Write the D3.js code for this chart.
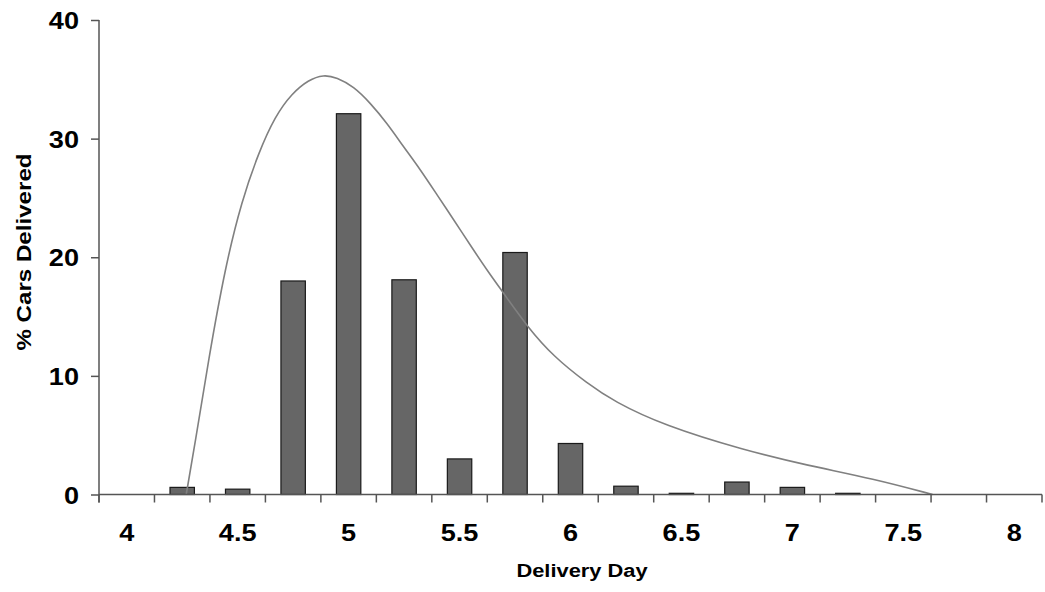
<!DOCTYPE html>
<html>
<head>
<meta charset="utf-8">
<script src="https://cdn.jsdelivr.net/npm/d3@7"></script>
<style>
  html, body { margin: 0; padding: 0; background: #fff; }
  svg text { font-family: "Liberation Sans", Arial, sans-serif; font-weight: bold; fill: #000; }
</style>
</head>
<body>
<svg id="chart" width="1045" height="592"></svg>
<script>
const width = 1045;
const height = 592;

// delivery day categories (every quarter day)
const days = [4, 4.25, 4.5, 4.75, 5, 5.25, 5.5, 5.75, 6, 6.25, 6.5, 6.75, 7, 7.25, 7.5, 7.75, 8];
// % of cars delivered per day
const pctDelivered = [0, 0.6, 0.45, 18.0, 32.1, 18.1, 3.0, 20.4, 4.3, 0.7, 0.1, 1.05, 0.6, 0.1, 0, 0, 0];
// fitted distribution curve
const curveDay = [4.268, 4.308, 4.368, 4.444, 4.519, 4.594, 4.669, 4.744, 4.819, 4.887, 4.947,
  5.022, 5.098, 5.173, 5.248, 5.323, 5.399, 5.474, 5.549, 5.624, 5.699, 5.805, 5.925, 6.075,
  6.195, 6.421, 6.78, 7.068, 7.368, 7.632];
const curvePct = [0, 4.3, 11.3, 19.2, 24.8, 28.8, 31.9, 33.8, 34.95, 35.4, 35.15,
  34.4, 33.0, 31.3, 29.3, 27.4, 25.25, 23.15, 21.0, 18.9, 16.96, 14.15, 11.6, 9.38,
  7.85, 5.82, 3.75, 2.45, 1.32, 0];
const yTicks = [0, 10, 20, 30, 40];

const margin = { left: 99, right: 3, top: 20, bottom: 97.5 };
const stretch = 1.13; // the reference text is a bit wide
const svg = d3.select("svg#chart");

const x = d3.scaleBand()
  .domain(days)
  .range([margin.left, width - margin.right])
  .paddingInner(0)
  .paddingOuter(0);

const y = d3.scaleLinear()
  .domain([0, 40])
  .range([height - margin.bottom, margin.top]);

// continuous day -> pixel, lined up with the band centres
const xc = d3.scaleLinear()
  .domain([days[0], days[days.length - 1]])
  .range([x(days[0]) + x.bandwidth() / 2, x(days[days.length - 1]) + x.bandwidth() / 2]);

const barW = x.bandwidth() * 0.44;

svg.append("g")
  .selectAll("rect")
  .data(days.map((d, i) => ({ day: d, pct: pctDelivered[i] })).filter(d => d.pct > 0))
  .join("rect")
  .attr("x", d => x(d.day) + (x.bandwidth() - barW) / 2)
  .attr("y", d => y(d.pct))
  .attr("width", barW)
  .attr("height", d => y(0) - y(d.pct))
  .attr("fill", "#666666")
  .attr("stroke", "#1a1a1a")
  .attr("stroke-width", 1.2);

// curve
const pts = curveDay.map((d, i) => [d, curvePct[i]]);
svg.append("path")
  .datum(pts)
  .attr("fill", "none")
  .attr("stroke", "#808080")
  .attr("stroke-width", 1.6)
  .attr("d", d3.line().x(d => xc(d[0])).y(d => y(d[1])).curve(d3.curveBasis));

// y axis
const yAxis = svg.append("g")
  .attr("transform", `translate(${margin.left},0)`)
  .call(d3.axisLeft(y).tickValues(yTicks).tickSize(8).tickFormat(d3.format("d")));
yAxis.select(".domain").remove();
yAxis.selectAll("line").attr("stroke", "#555").attr("stroke-width", 1.5);
yAxis.selectAll("text")
  .attr("x", 0)
  .attr("dy", "0.36em")
  .attr("font-size", 24)
  .attr("transform", `translate(-20,0) scale(${stretch},1)`);
svg.append("line")
  .attr("x1", margin.left).attr("x2", margin.left)
  .attr("y1", margin.top).attr("y2", y(0) + 8)
  .attr("stroke", "#555").attr("stroke-width", 1.5);

// x axis
const xAxisG = svg.append("g").attr("transform", `translate(0,${y(0)})`);
xAxisG.append("line")
  .attr("x1", margin.left).attr("x2", width - margin.right)
  .attr("stroke", "#555").attr("stroke-width", 1.5);
xAxisG.selectAll("line.tick")
  .data(days.concat([null]))
  .join("line")
  .attr("class", "tick")
  .attr("x1", (d, i) => margin.left + i * x.bandwidth())
  .attr("x2", (d, i) => margin.left + i * x.bandwidth())
  .attr("y1", 0).attr("y2", 8)
  .attr("stroke", "#555").attr("stroke-width", 1.5);
xAxisG.selectAll("text")
  .data(days.filter((d, i) => i % 2 === 0))
  .join("text")
  .attr("transform", d => `translate(${x(d) + x.bandwidth() / 2},46.5) scale(${stretch},1)`)
  .attr("text-anchor", "middle")
  .attr("font-size", 24)
  .text(d => d);

// titles
svg.append("text")
  .attr("transform", `translate(582,577) scale(1.15,1)`)
  .attr("text-anchor", "middle")
  .attr("font-size", 19)
  .text("Delivery Day");

svg.append("text")
  .attr("transform", "translate(31,252) rotate(-90) scale(1.15,1)")
  .attr("text-anchor", "middle")
  .attr("font-size", 21)
  .text("% Cars Delivered");
</script>
</body>
</html>
